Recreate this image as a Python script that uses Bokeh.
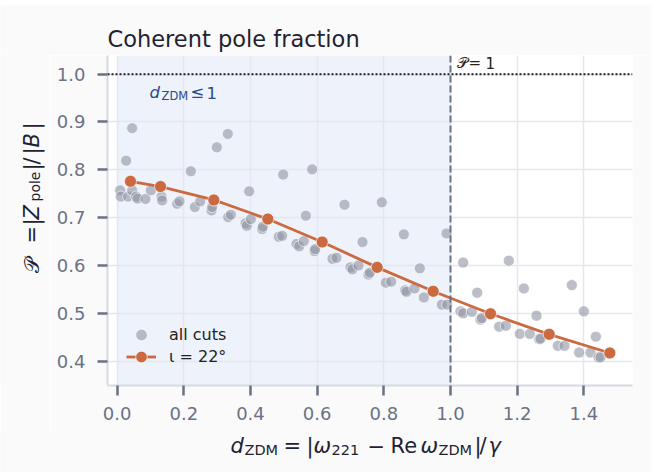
import math
from bokeh.plotting import figure
from bokeh.layouts import column, row
from bokeh.models import (BoxAnnotation, Span, Label, Legend, LegendItem,
                          FixedTicker, PrintfTickFormatter, Range1d)
from bokeh.embed import file_html
from bokeh.resources import INLINE

# ---- data ----
cut_d = [0.045, 0.027, 0.009, 0.011, 0.033, 0.045, 0.057, 0.061, 0.085, 0.101,
         0.133, 0.135, 0.180, 0.187, 0.221, 0.233, 0.249, 0.283, 0.285, 0.299,
         0.332, 0.333, 0.341, 0.385, 0.389, 0.401, 0.396, 0.435, 0.437, 0.485,
         0.495, 0.498, 0.585, 0.566, 0.682, 0.794, 0.538, 0.546, 0.560, 0.592,
         0.594, 0.646, 0.658, 0.700, 0.706, 0.724, 0.736, 0.754, 0.758, 0.806,
         0.822, 0.860, 0.864, 0.868, 0.892, 0.908, 0.920, 0.974, 0.990, 0.988,
         1.038, 1.175, 1.080, 1.220, 1.364, 1.400, 1.258, 1.436, 1.030, 1.038,
         1.064, 1.090, 1.094, 1.146, 1.166, 1.208, 1.238, 1.266, 1.270, 1.322,
         1.342, 1.386, 1.420, 1.444, 1.450]
cut_p = [0.887, 0.819, 0.757, 0.744, 0.744, 0.757, 0.744, 0.740, 0.739, 0.757,
         0.744, 0.736, 0.729, 0.734, 0.797, 0.722, 0.734, 0.715, 0.722, 0.847,
         0.875, 0.701, 0.706, 0.688, 0.683, 0.697, 0.755, 0.676, 0.681, 0.660,
         0.662, 0.790, 0.801, 0.704, 0.727, 0.732, 0.645, 0.640, 0.651, 0.630,
         0.634, 0.614, 0.616, 0.596, 0.592, 0.600, 0.649, 0.581, 0.585, 0.564,
         0.566, 0.665, 0.548, 0.545, 0.552, 0.594, 0.533, 0.518, 0.518, 0.667,
         0.606, 0.610, 0.543, 0.552, 0.559, 0.504, 0.495, 0.451, 0.504, 0.500,
         0.503, 0.487, 0.490, 0.472, 0.474, 0.457, 0.457, 0.446, 0.447, 0.432,
         0.432, 0.418, 0.418, 0.408, 0.408]
inc_d = [0.040, 0.130, 0.290, 0.452, 0.615, 0.780, 0.948, 1.120, 1.296, 1.478]
inc_p = [0.776, 0.765, 0.737, 0.697, 0.649, 0.596, 0.546, 0.499, 0.456, 0.417]
x_ticks = [0.0, 0.2, 0.4, 0.6, 0.8, 1.0, 1.2, 1.4]
y_ticks = [0.4, 0.5, 0.6, 0.7, 0.8, 0.9, 1.0]
title_text = "Coherent pole fraction"
legend_cuts = "all cuts"
legend_inc = "ι = 22°"

# ---- layout (page pixels) ----
TOP_OFF = 5
TOTAL_W = 651
FL, FR, FT, FB = 107, 632, 55, 385
L_W = 50
MID_BOTTOM = 430
PAGE_H = 472
BSHIFT = 7          # correction between requested and drawn baseline

FONT = "DejaVu Sans"
DARK = "#1f2330"
TICKC = "#6b7285"
ORANGE = "#cb6a40"
GRAY = "#8f94a3"
BG = "#fafafa"


def strip(width, height):
    f = figure(width=width, height=height, output_backend="svg",
               toolbar_location=None, x_axis_type=None, y_axis_type=None,
               x_range=Range1d(0, 1), y_range=Range1d(0, 1), min_border=0,
               background_fill_color=BG, border_fill_color=BG)
    f.outline_line_color = None
    return f


def label(fig, text, sx, sy, size, style="normal", color=DARK, angle=0.0):
    if angle:
        sx = sx - BSHIFT
    else:
        sy = sy + BSHIFT
    fig.add_layout(Label(x=sx, y=sy, x_units="screen", y_units="screen",
                         text=text, text_font=FONT, text_font_size=size,
                         text_font_style=style, text_color=color,
                         text_align="left", text_baseline="alphabetic",
                         angle=angle))


# ---------- main figure ----------
p = figure(width=TOTAL_W - L_W, height=MID_BOTTOM - FT, output_backend="svg",
           toolbar_location=None,
           x_range=Range1d(-0.029, 1.546), y_range=Range1d(0.349, 1.039),
           min_border_left=FL - L_W, min_border_right=TOTAL_W - FR,
           min_border_top=0, min_border_bottom=MID_BOTTOM - FB,
           background_fill_color="white", border_fill_color=BG)
p.outline_line_color = None

p.add_layout(BoxAnnotation(left=0.0, right=1.0, fill_color="#eef2fb", fill_alpha=1.0,
                           line_color=None, level="image"))

for ax, tk in ((p.xaxis, x_ticks), (p.yaxis, y_ticks)):
    ax.ticker = FixedTicker(ticks=tk)
    ax.formatter = PrintfTickFormatter(format="%.1f")
    ax.axis_line_color = "#d6dae4"
    ax.axis_line_width = 2
    ax.major_tick_line_color = TICKC
    ax.major_tick_line_width = 2.5
    ax.major_tick_out = 10
    ax.major_tick_in = 0
    ax.minor_tick_line_color = None
    ax.major_label_text_font = FONT
    ax.major_label_text_font_size = "18px"
    ax.major_label_text_color = TICKC
p.xaxis.major_label_standoff = 11
p.yaxis.major_label_standoff = 12

p.grid.grid_line_color = "#e4e7ef"
p.grid.grid_line_width = 1.5
p.xgrid.ticker = FixedTicker(ticks=x_ticks)
p.ygrid.ticker = FixedTicker(ticks=y_ticks)

p.add_layout(Span(location=1.0, dimension="width", line_color="#222222",
                  line_width=2, line_dash="2 2"))
p.add_layout(Span(location=1.0, dimension="height", line_color="#6b7285",
                  line_width=2, line_dash="7 3"))

r_cuts = p.scatter(cut_d, cut_p, size=11, fill_color=GRAY, fill_alpha=0.6,
                   line_color="white", line_alpha=0.6, line_width=1)
r_line = p.line(inc_d, inc_p, line_color=ORANGE, line_width=2.8)
r_pts = p.scatter(inc_d, inc_p, size=12, fill_color=ORANGE, line_color="white",
                  line_width=0.8, line_alpha=0.8)

GH = 29  # legend glyph box height (sets legend marker size)
for item, center_y in ((LegendItem(label=legend_cuts, renderers=[r_cuts]), 335),
                       (LegendItem(label=legend_inc, renderers=[r_line, r_pts]), 357)):
    p.add_layout(Legend(items=[item],
                        location=(126 - FL, FB - center_y - GH // 2),
                        padding=0, margin=0, glyph_width=30, glyph_height=GH,
                        label_height=GH, label_standoff=13, spacing=0,
                        background_fill_alpha=0, border_line_alpha=0,
                        label_text_font=FONT, label_text_font_size="16px",
                        label_text_color="#222222"))

BLUE = "#2b4a8b"
for t, px, py, sz, st in [("d", 149, 99, "16.5px", "italic"),
                          ("ZDM", 161, 102, "11.5px", "normal"),
                          ("≤", 190, 99, "16.5px", "normal"),
                          ("1", 206, 99, "16.5px", "normal")]:
    label(p, t, px - FL, FB - py, sz, st, BLUE)
for t, px in [("𝒫", 456), ("=", 468), ("1", 485)]:
    label(p, t, px - FL, FB - 69, "15px", "normal", "#222222")

# ---------- title strip ----------
top = strip(TOTAL_W, FT - TOP_OFF)
label(top, title_text, 107, FT - 45, "22.5px")

# ---------- y label strip ----------
left = strip(L_W, MID_BOTTOM - FT)
M, S = "21px", "14.5px"
for t, py, st, sz in [("𝒫", 317, "normal", M), ("=", 288, "normal", M),
                      ("|", 270, "normal", M), ("Z", 264, "italic", M),
                      ("pole", 246, "normal", "14px"), ("|", 215, "normal", M),
                      ("/", 209, "normal", M), ("|", 199, "normal", M),
                      ("B", 192, "italic", M), ("|", 174, "normal", M)]:
    label(left, t, 38 if sz == M else 41, MID_BOTTOM - py, sz, st,
          angle=math.pi / 2)

# ---------- x label strip ----------
bottom = strip(TOTAL_W, PAGE_H - MID_BOTTOM)
for t, px, st, sz in [("d", 230, "italic", M), ("ZDM", 244, "normal", S),
                      ("=", 283, "normal", M), ("|", 306, "normal", M),
                      ("ω", 313, "italic", M), ("221", 331, "normal", S),
                      ("−", 367, "normal", M), ("Re", 390, "normal", M),
                      ("ω", 420, "italic", M), ("ZDM", 438, "normal", S),
                      ("|", 474, "normal", M), ("/", 479, "normal", M),
                      ("γ", 488, "italic", M)]:
    label(bottom, t, px, PAGE_H - (452 if sz == M else 456), sz, st)

layout = column(top, row(left, p, spacing=0), bottom, spacing=0,
                margin=(TOP_OFF, 0, 0, 0))

open("out.html", "w").write(file_html(layout, INLINE))
